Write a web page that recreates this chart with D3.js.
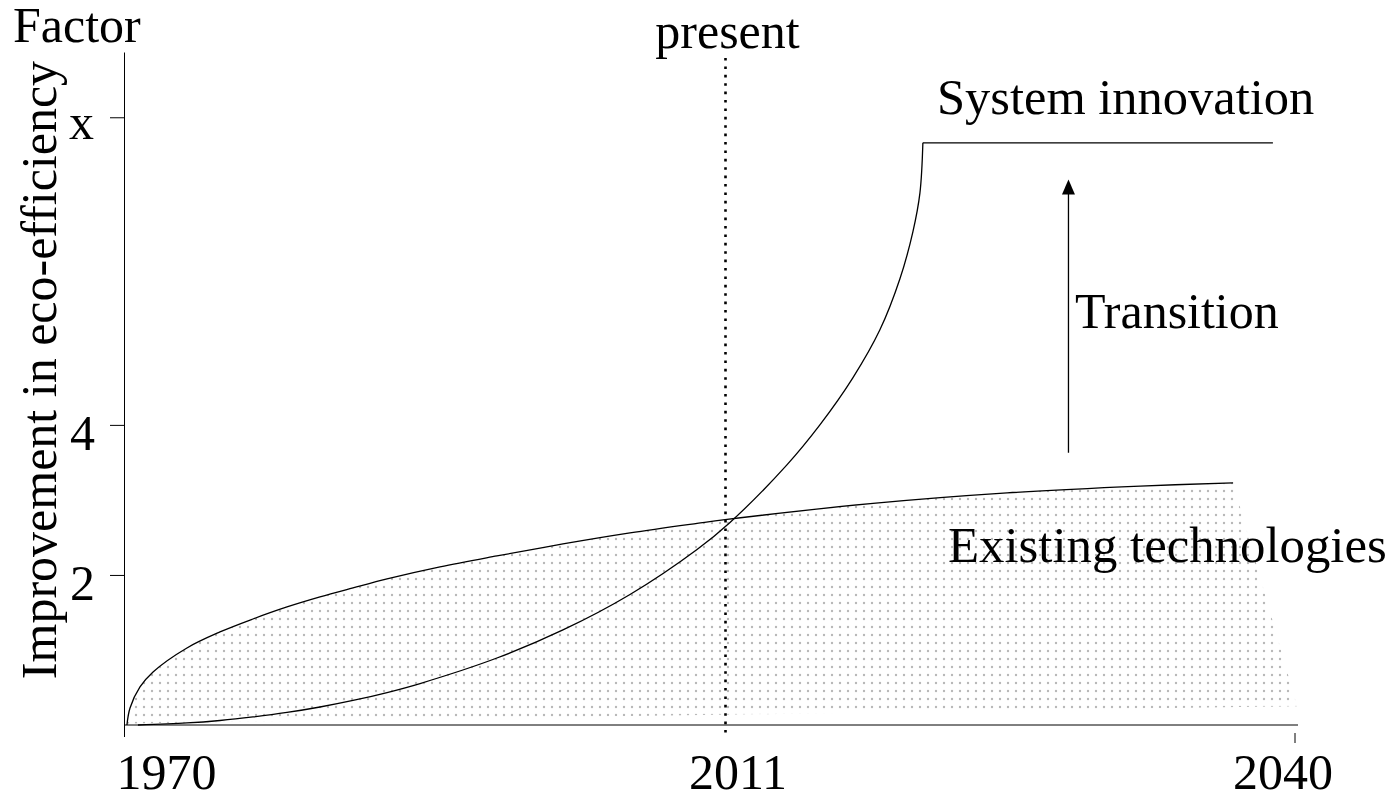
<!DOCTYPE html>
<html>
<head>
<meta charset="utf-8">
<script src="https://cdn.jsdelivr.net/npm/d3@7"></script>
<style>
  html, body { margin: 0; padding: 0; background: #fff; }
  svg { display: block; }
  text { font-family: "Liberation Serif", "Times New Roman", serif; fill: #000; }
</style>
</head>
<body>
<svg id="chart" width="1391" height="795"></svg>
<script>
// ---------- data ----------
const xTickYears = [1970, 2011, 2040];
const xTickLabels = ["1970", "2011", "2040"];
const yTickValues = [2, 4, 8.1];
const yTickLabels = ["2", "4", "x"];
const yMax = 8.97;
const presentYear = 2011;

// Existing technologies curve [year, factor]
const existingTech = [
  [1970.20, 0], [1970.41, 0.227], [1971.09, 0.507], [1971.98, 0.707], [1974.29, 1.027],
  [1976.54, 1.24], [1978.79, 1.413], [1981.11, 1.573], [1983.36, 1.707], [1985.61, 1.827],
  [1987.93, 1.947], [1991.54, 2.107], [1995.42, 2.253], [1999.92, 2.413], [2004.49, 2.56],
  [2009.06, 2.687], [2010.97, 2.737], [2018.52, 2.953], [2025.35, 3.093], [2032.13, 3.184],
  [2036.87, 3.227]
];
// right edge of the shaded area
const shadeEdge = [[2036.87, 3.227], [2040.13, 0.25], [1970.20, 0.02]];

// System innovation curve [year, factor]
const systemInnovation = [
  [1970.95, 0], [1974.29, 0.027], [1976.54, 0.06], [1978.79, 0.107], [1981.11, 0.167],
  [1983.36, 0.24], [1985.61, 0.327], [1987.93, 0.433], [1990.18, 0.553], [1995.42, 0.893],
  [1999.92, 1.267], [2004.49, 1.74], [2009.06, 2.34], [2011.23, 2.70], [2014.13, 3.467],
  [2015.81, 4.0], [2017.49, 4.627], [2018.87, 5.267], [2019.89, 5.947], [2020.55, 6.573],
  [2020.91, 7.093], [2021.06, 7.76]
];
const systemPlateau = [[2021.06, 7.76], [2038.9, 7.76]];

// Transition arrow [year, from, to]
const transitionArrow = { year: 2028.48, from: 3.63, to: 7.27 };

// ---------- scales ----------
const svg = d3.select("#chart");
const x = d3.scaleLinear().domain(xTickYears).range([124, 725.5, 1294.5]);
const y = d3.scaleLinear().domain([0, yMax]).range([725, 52]);

// pattern
const defs = svg.append("defs");
const pat = defs.append("pattern")
  .attr("id", "dots").attr("patternUnits", "userSpaceOnUse")
  .attr("x", 300).attr("y", 599).attr("width", 8).attr("height", 8);
pat.append("circle").attr("cx", 4).attr("cy", 4).attr("r", 1.2).attr("fill", "#b8b8b8");

const mk = (curve) => d3.line().x(d => x(d[0])).y(d => y(d[1])).curve(curve);
const smooth = d3.curveCatmullRom.alpha(0.5);

// shaded area
svg.append("path")
  .attr("d", mk(smooth)(existingTech) +
             "L" + shadeEdge.map(d => x(d[0]) + "," + y(d[1])).join("L") + "Z")
  .attr("fill", "url(#dots)").attr("stroke", "none");

// present dotted line
svg.append("line")
  .attr("x1", x(presentYear)).attr("x2", x(presentYear))
  .attr("y1", 58).attr("y2", 734)
  .attr("stroke", "#000").attr("stroke-width", 2.6)
  .attr("stroke-dasharray", "2.6,5.8");

// axes
const yAxis = d3.axisLeft(y).tickValues(yTickValues)
  .tickFormat((d, i) => yTickLabels[i]).tickSize(14).tickSizeOuter(0).tickPadding(15);
const gy = svg.append("g").attr("transform", "translate(124,0)").call(yAxis);
gy.selectAll("text").style("font-size", "50px").attr("dy", null).attr("y", 25);
gy.selectAll(".tick").filter((d, i) => i === 2).select("text").attr("x", -30).attr("y", 21);
gy.selectAll("line,path").attr("stroke", "#000");

const xAxis = d3.axisBottom(x).tickValues(xTickYears)
  .tickFormat((d, i) => xTickLabels[i]).tickSize(12).tickSizeOuter(0);
const gx = svg.append("g").attr("transform", "translate(0,725)").call(xAxis);
gx.select(".domain").remove();
gx.selectAll("line").attr("stroke", "#000");
gx.selectAll(".tick").filter(d => d === 2011).select("line").remove();
gx.selectAll(".tick").filter(d => d === 2040).select("line").attr("y1", 8).attr("y2", 18);
gx.selectAll("text").style("font-size", "50px").attr("dy", null).attr("y", 64);
gx.selectAll(".tick").filter(d => d === 1970).select("text").attr("text-anchor", "start").attr("x", -8);
gx.selectAll(".tick").filter(d => d === 2011).select("text").attr("x", 12);
gx.selectAll(".tick").filter(d => d === 2040).select("text").attr("text-anchor", "end").attr("x", 38);
svg.append("line")
  .attr("x1", x(1970)).attr("x2", x(2040) + 3.5)
  .attr("y1", y(0)).attr("y2", y(0))
  .attr("stroke", "#000");

// curves
svg.append("path")
  .attr("d", mk(smooth)(existingTech))
  .attr("fill", "none").attr("stroke", "#000").attr("stroke-width", 1.3);
svg.append("path")
  .attr("d", mk(smooth)(systemInnovation))
  .attr("fill", "none").attr("stroke", "#000").attr("stroke-width", 1.3);
svg.append("path")
  .attr("d", mk(d3.curveLinear)(systemPlateau))
  .attr("fill", "none").attr("stroke", "#000").attr("stroke-width", 1.3);

// arrow
const ax = x(transitionArrow.year), ay0 = y(transitionArrow.from), ay1 = y(transitionArrow.to);
svg.append("line")
  .attr("x1", ax).attr("x2", ax).attr("y1", ay0).attr("y2", ay1 + 12)
  .attr("stroke", "#000").attr("stroke-width", 1.3);
svg.append("path")
  .attr("d", `M${ax},${ay1} L${ax - 6.5},${ay1 + 15} L${ax + 6.5},${ay1 + 15} Z`)
  .attr("fill", "#000");

// texts
const fs = "50px";
svg.append("text").attr("x", 13).attr("y", 42).style("font-size", fs).text("Factor");
svg.append("text").attr("transform", "translate(56,370) rotate(-90)")
  .attr("text-anchor", "middle").style("font-size", fs).text("Improvement in eco-efficiency");
svg.append("text").attr("x", x(presentYear) + 2).attr("y", 48)
  .attr("text-anchor", "middle").style("font-size", fs).text("present");
svg.append("text").attr("x", 937).attr("y", 114).style("font-size", "50.5px").text("System innovation");
svg.append("text").attr("x", 1075).attr("y", 328).style("font-size", fs).text("Transition");
svg.append("text").attr("x", 948).attr("y", 562).style("font-size", "50.8px").text("Existing technologies");
</script>
</body>
</html>
